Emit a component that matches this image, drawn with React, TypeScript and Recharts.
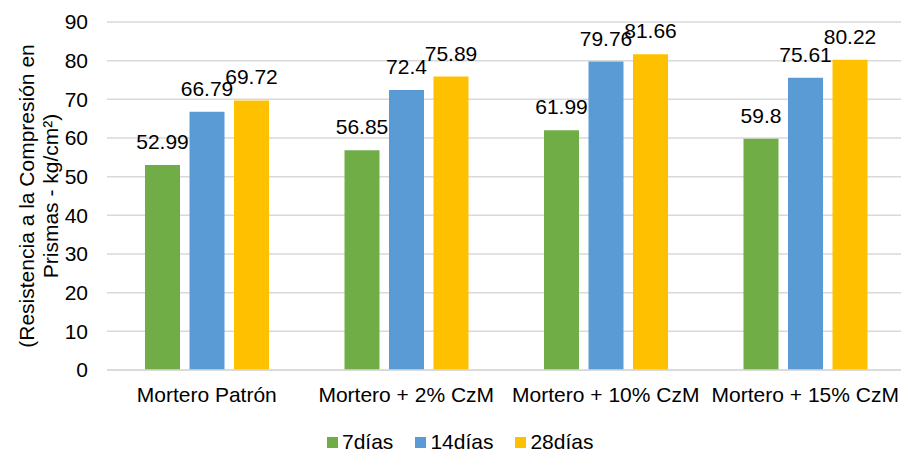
import { BarChart, Bar, XAxis, YAxis, CartesianGrid, LabelList } from 'recharts';

const categories = ['Mortero Patrón', 'Mortero + 2% CzM', 'Mortero + 10% CzM', 'Mortero + 15% CzM'];
const dias7 = [52.99, 56.85, 61.99, 59.8];
const dias14 = [66.79, 72.4, 79.76, 75.61];
const dias28 = [69.72, 75.89, 81.66, 80.22];
const yTicks = [0, 10, 20, 30, 40, 50, 60, 70, 80, 90];

const series = [
  { key: 'd7', name: '7días', color: '#70AD47' },
  { key: 'd14', name: '14días', color: '#5B9BD5' },
  { key: 'd28', name: '28días', color: '#FFC000' },
];

const data = categories.map((name, i) => ({
  name,
  d7: dias7[i],
  d14: dias14[i],
  d28: dias28[i],
}));

const FONT = 'Arial, "Liberation Sans", sans-serif';

// two-line rotated axis title
const YTitleLines = (props: any) => {
  const vb = props.viewBox || {};
  const cy = vb.y + vb.height / 2;
  return (
    <g fontSize={21} fontFamily={FONT} fill="#000">
      <text transform={`translate(34, ${cy}) rotate(-90)`} textAnchor="middle">
        (Resistencia a la Compresión en
      </text>
      <text transform={`translate(58, ${cy}) rotate(-90)`} textAnchor="middle">
        Prismas - kg/cm²)
      </text>
    </g>
  );
};

export default function App() {
  return (
    <div
      style={{
        position: 'absolute',
        left: 0,
        top: 0,
        width: 901,
        height: 453,
        overflow: 'hidden',
        background: '#fff',
        fontFamily: FONT,
      }}
    >
      <BarChart
        width={910}
        height={453}
        data={data}
        margin={{ top: 22, right: 5, left: 0, bottom: 0 }}
        barSize={35}
        barGap={9.5}
      >
        <CartesianGrid vertical={false} stroke="#D9D9D9" strokeWidth={1.5} />
        <XAxis
          dataKey="name"
          height={83}
          axisLine={{ stroke: '#D9D9D9', strokeWidth: 1.5 }}
          tickLine={false}
          tickSize={0}
          tickMargin={17}
          interval={0}
          tick={{ fill: '#000', fontSize: 21, fontFamily: FONT }}
        />
        <YAxis
          width={107}
          domain={[0, 90]}
          ticks={yTicks}
          axisLine={false}
          tickLine={false}
          tickSize={0}
          tickMargin={19}
          tick={{ fill: '#000', fontSize: 21, fontFamily: FONT }}
          label={{ content: YTitleLines }}
        />
        {series.map((s) => (
          <Bar key={s.key} dataKey={s.key} name={s.name} fill={s.color} isAnimationActive={false}>
            <LabelList
              dataKey={s.key}
              position="top"
              offset={16}
              fill="#000"
              fontSize={21}
              fontFamily={FONT}
            />
          </Bar>
        ))}
      </BarChart>
      <div
        style={{
          position: 'absolute',
          left: 327,
          top: 430,
          display: 'flex',
          alignItems: 'center',
          gap: 22,
          fontSize: 21,
          color: '#000',
          lineHeight: '24px',
        }}
      >
        {series.map((s) => (
          <div key={s.key} style={{ display: 'flex', alignItems: 'center' }}>
            <span style={{ display: 'inline-block', width: 11, height: 11, background: s.color, marginRight: 4 }} />
            <span>{s.name}</span>
          </div>
        ))}
      </div>
    </div>
  );
}
